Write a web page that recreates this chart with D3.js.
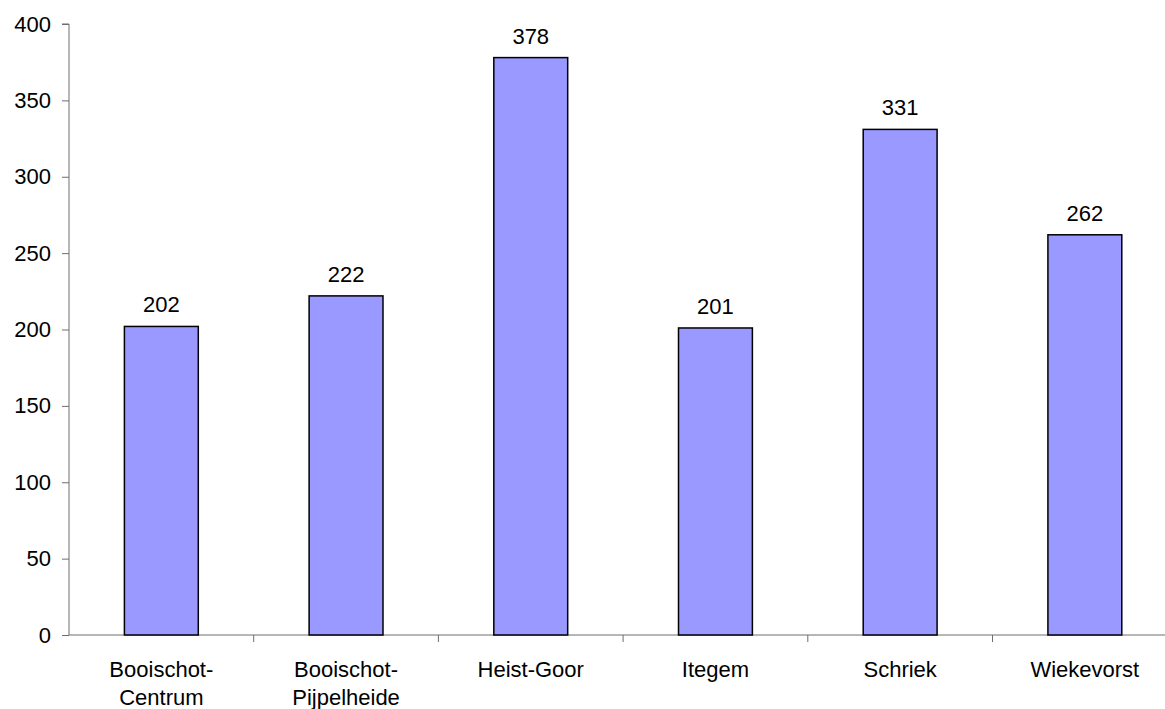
<!DOCTYPE html>
<html>
<head>
<meta charset="utf-8">
<script src="https://cdn.jsdelivr.net/npm/d3@7"></script>
<style>
  html, body { margin: 0; padding: 0; background: #fff; }
  svg text { font-family: "Liberation Sans", Arial, sans-serif; }
</style>
</head>
<body>
<div class="chart-container"></div>
<script>
//! DATA
const categories = [
  ['Booischot-', 'Centrum'],
  ['Booischot-', 'Pijpelheide'],
  ['Heist-Goor'],
  ['Itegem'],
  ['Schriek'],
  ['Wiekevorst']
]
const values = [202, 222, 378, 201, 331, 262]
const yTicks = [0, 50, 100, 150, 200, 250, 300, 350, 400]

//! CONSTS
const WIDTH = 1165
const HEIGHT = 709
const LEFT = 69
const TOP = 24
const BOTTOM = 635
const BAND = 184.7
const FONT = 22

const svg = d3.select('.chart-container')
  .append('svg')
  .attr('width', WIDTH)
  .attr('height', HEIGHT)

//! SCALES
const xScale = d3.scaleBand()
  .domain(d3.range(categories.length))
  .range([LEFT, LEFT + BAND * categories.length])
  .paddingInner(0.6)
  .paddingOuter(0.3)

const yScale = d3.scaleLinear()
  .domain([0, 400])
  .range([BOTTOM, TOP])

//! AXES
const yAxis = d3.axisLeft(yScale)
  .tickValues(yTicks)
  .tickSize(7)
  .tickPadding(11)

const gy = svg.append('g')
  .attr('transform', `translate(${LEFT},0)`)
  .call(yAxis)
gy.select('.domain').attr('stroke', '#6e6e6e').attr('d', `M-7,${TOP}H0V${BOTTOM}`)
gy.selectAll('.tick line').attr('stroke', '#6e6e6e')
gy.selectAll('.tick text').attr('font-size', FONT).attr('fill', '#000')
  .attr('font-family', '"Liberation Sans", Arial, sans-serif')

// x axis: line plus boundary ticks between categories
const bounds = d3.range(categories.length + 1).map(i => LEFT + i * BAND)
svg.append('line')
  .attr('x1', LEFT).attr('x2', WIDTH)
  .attr('y1', BOTTOM).attr('y2', BOTTOM)
  .attr('stroke', '#6e6e6e')
svg.selectAll('.xtick')
  .data(bounds.slice(1))
  .enter()
  .append('line')
  .attr('class', 'xtick')
  .attr('x1', d => d).attr('x2', d => d)
  .attr('y1', BOTTOM).attr('y2', BOTTOM + 7)
  .attr('stroke', '#6e6e6e')

//! BARS
svg.selectAll('rect.bar')
  .data(values)
  .enter()
  .append('rect')
  .attr('class', 'bar')
  .attr('x', (d, i) => xScale(i))
  .attr('y', d => yScale(d))
  .attr('width', xScale.bandwidth())
  .attr('height', d => yScale(0) - yScale(d))
  .attr('fill', '#9999FF')
  .attr('stroke', '#000')
  .attr('stroke-width', 1.5)

//! VALUE LABELS
svg.selectAll('text.val')
  .data(values)
  .enter()
  .append('text')
  .attr('class', 'val')
  .attr('x', (d, i) => xScale(i) + xScale.bandwidth() / 2)
  .attr('y', d => yScale(d) - 14)
  .attr('text-anchor', 'middle')
  .attr('font-size', FONT)
  .text(d => d)

//! CATEGORY LABELS
const cat = svg.selectAll('text.cat')
  .data(categories)
  .enter()
  .append('text')
  .attr('class', 'cat')
  .attr('text-anchor', 'middle')
  .attr('font-size', FONT)
  .attr('x', (d, i) => xScale(i) + xScale.bandwidth() / 2)
  .attr('y', 677)

cat.selectAll('tspan')
  .data(d => d)
  .enter()
  .append('tspan')
  .attr('x', function () { return this.parentNode.getAttribute('x') })
  .attr('dy', (d, i) => i === 0 ? 0 : 28)
  .text(d => d)
</script>
</body>
</html>
